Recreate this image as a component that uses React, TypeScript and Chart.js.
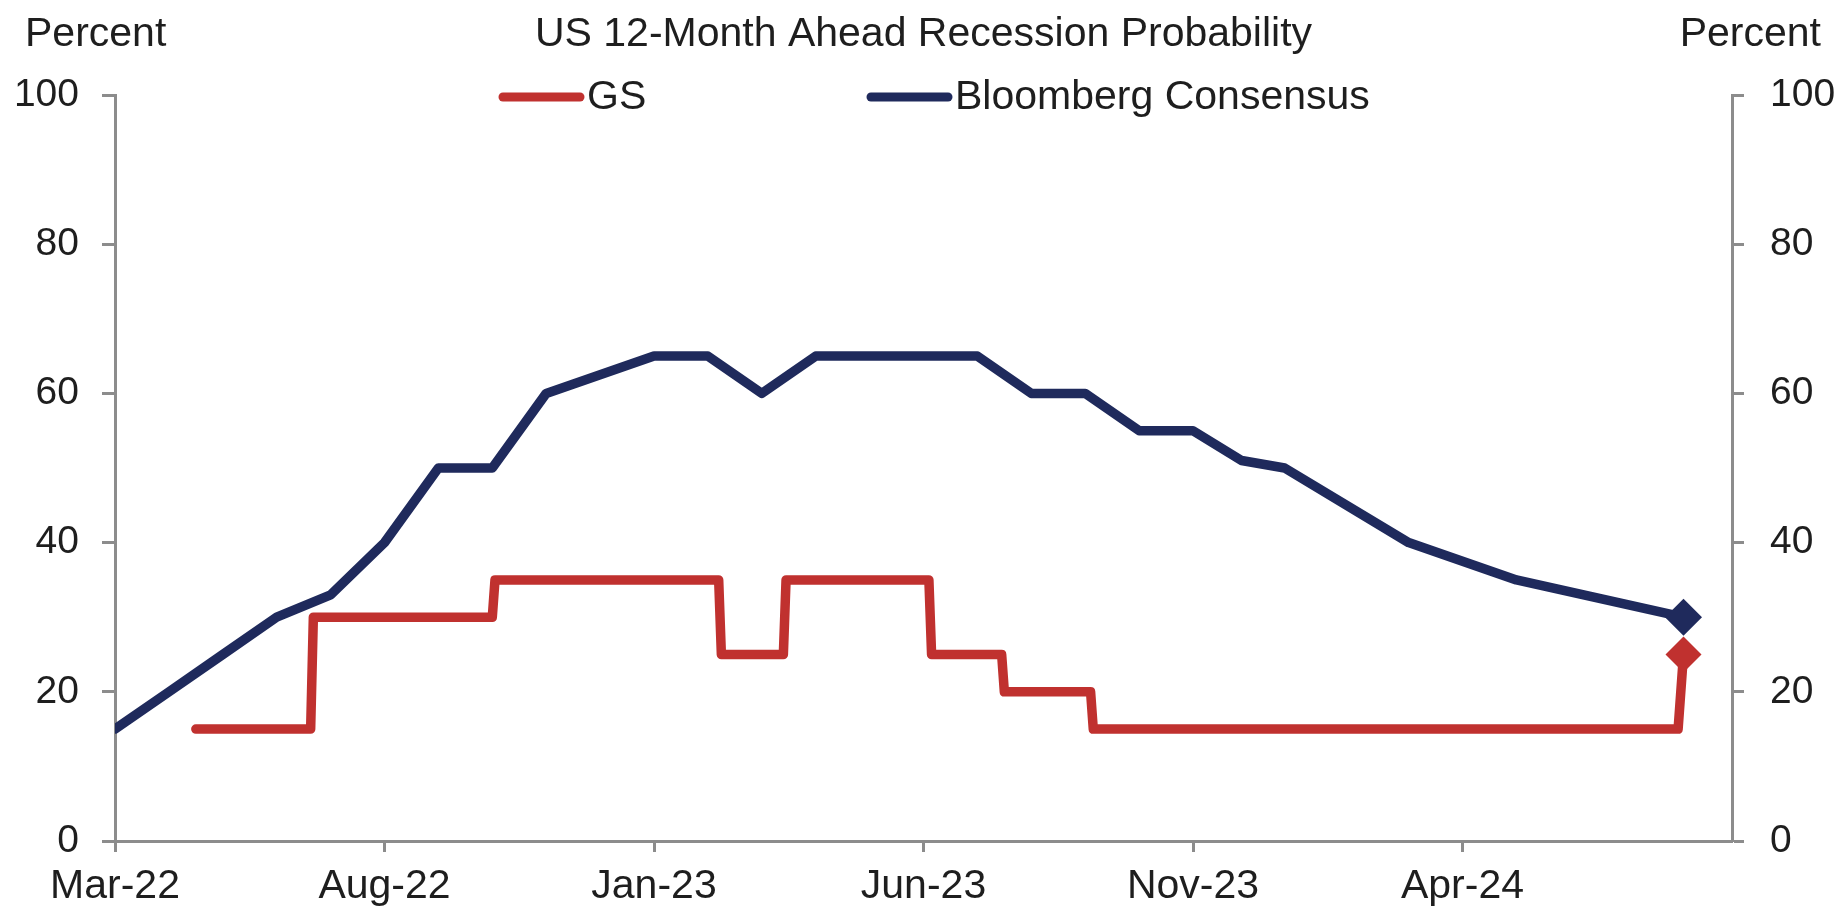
import React, { useEffect, useRef } from 'react';
import { Chart, registerables } from 'chart.js';

Chart.register(...registerables);

// ---- text ----
const TITLE = 'US 12-Month Ahead Recession Probability';
const AXIS_UNIT = 'Percent';

// ---- x axis: months since Mar-22 ----
const tickMonths = [0, 5, 10, 15, 20, 25];
const tickLabels = ['Mar-22', 'Aug-22', 'Jan-23', 'Jun-23', 'Nov-23', 'Apr-24'];
const X_MIN = 0;
const X_MAX = 30;

// ---- y axis ----
const Y_MIN = 0;
const Y_MAX = 100;
const Y_STEP = 20;

// ---- GS (step changes) ----
const gsLabel = 'GS';
const gsMonths = [1.5, 3.63, 3.68, 7.0, 7.05, 11.2, 11.25, 12.4, 12.45, 15.1, 15.15, 16.45, 16.5, 18.1, 18.15, 29.0, 29.1];
const gsValues = [15, 15, 30, 30, 35, 35, 25, 25, 35, 35, 25, 25, 20, 20, 15, 15, 25];

// ---- Bloomberg Consensus ----
const bbgLabel = 'Bloomberg Consensus';
const bbgMonths = [0, 1, 2, 3, 4, 5, 6, 7, 8, 9, 10, 11, 12, 13, 14, 15, 16, 17, 18, 19, 20, 20.9, 21.7, 24, 26, 29.1];
const bbgValues = [15, 20, 25, 30, 33, 40, 50, 50, 60, 62.5, 65, 65, 60, 65, 65, 65, 65, 60, 60, 55, 55, 51, 50, 40, 35, 30];

const FONT = '"Liberation Sans", Arial, sans-serif';
const RED = '#c0312f';
const NAVY = '#1f2a5c';
const AXIS = '#8c8c8c';
const TEXT = '#1e1e1e';

const topTextPlugin = {
  id: 'topText',
  afterDraw(chart: any) {
    const { ctx, chartArea } = chart;
    ctx.save();
    ctx.font = `41px ${FONT}`;
    ctx.fillStyle = TEXT;
    ctx.textBaseline = 'middle';
    ctx.textAlign = 'left';
    ctx.fillText(AXIS_UNIT, 25, 35);
    ctx.textAlign = 'right';
    ctx.fillText(AXIS_UNIT, chart.width - 21, 35);
    ctx.textAlign = 'center';
    ctx.fillText(TITLE, (chartArea.left + chartArea.right) / 2, 35);

    // legend
    const starts = [chartArea.left + 384, chartArea.left + 752];
    const ly = 97;
    chart.data.datasets.forEach((ds: any, i: number) => {
      const x0 = starts[i];
      ctx.strokeStyle = ds.borderColor;
      ctx.lineWidth = 9;
      ctx.lineCap = 'round';
      ctx.beginPath();
      ctx.moveTo(x0 + 4, ly);
      ctx.lineTo(x0 + 81, ly);
      ctx.stroke();
      ctx.fillStyle = TEXT;
      ctx.textAlign = 'left';
      ctx.fillText(ds.label, x0 + 88, ly + 1);
    });
    ctx.restore();
  },
};

function toPoints(xs: number[], ys: number[]) {
  return xs.map((x, i) => ({ x, y: ys[i] }));
}

export default function App() {
  const canvasRef = useRef<HTMLCanvasElement | null>(null);

  useEffect(() => {
    if (!canvasRef.current) return;
    const lastGs = gsMonths.length - 1;
    const lastBbg = bbgMonths.length - 1;
    const chart = new Chart(canvasRef.current, {
      type: 'line',
      data: {
        datasets: [
          {
            label: gsLabel,
            data: toPoints(gsMonths, gsValues),
            borderColor: RED,
            backgroundColor: RED,
            borderWidth: 9.5,
            borderCapStyle: 'round',
            borderJoinStyle: 'round',
            tension: 0,
            pointStyle: 'rectRot',
            pointRadius: (c: any) => (c.dataIndex === lastGs ? 18 : 0),
            pointBorderWidth: 0,
            pointBackgroundColor: RED,
            yAxisID: 'y',
          },
          {
            label: bbgLabel,
            data: toPoints(bbgMonths, bbgValues),
            borderColor: NAVY,
            backgroundColor: NAVY,
            borderWidth: 9.5,
            borderCapStyle: 'round',
            borderJoinStyle: 'round',
            tension: 0,
            pointStyle: 'rectRot',
            pointRadius: (c: any) => (c.dataIndex === lastBbg ? 18.5 : 0),
            pointBorderWidth: 0,
            pointBackgroundColor: NAVY,
            yAxisID: 'y',
          },
        ],
      },
      options: {
        animation: false,
        responsive: false,
        events: [],
        layout: { padding: { top: 95, left: 0, right: 0, bottom: 0 } },
        plugins: {
          legend: { display: false },
          title: { display: false },
          tooltip: { enabled: false },
        },
        scales: {
          x: {
            type: 'linear',
            min: X_MIN,
            max: X_MAX,
            afterBuildTicks: (s: any) => {
              s.ticks = tickMonths.map((v) => ({ value: v }));
            },
            afterFit: (s: any) => {
              s.height = 69;
            },
            ticks: {
              autoSkip: false,
              maxRotation: 0,
              minRotation: 0,
              padding: 10,
              color: TEXT,
              font: { family: FONT, size: 41 },
              callback: (_v: any, i: number) => tickLabels[i] ?? '',
            },
            grid: { drawOnChartArea: false, drawTicks: true, tickLength: 11, tickWidth: 3, tickColor: AXIS },
            border: { display: true, color: AXIS, width: 3 },
          },
          y: {
            position: 'left',
            min: Y_MIN,
            max: Y_MAX,
            afterFit: (s: any) => {
              s.width = 115;
            },
            ticks: { stepSize: Y_STEP, padding: 23, color: TEXT, font: { family: FONT, size: 39 } },
            grid: { drawOnChartArea: false, drawTicks: true, tickLength: 13, tickWidth: 3, tickColor: AXIS },
            border: { display: true, color: AXIS, width: 3 },
          },
          y2: {
            position: 'right',
            min: Y_MIN,
            max: Y_MAX,
            afterFit: (s: any) => {
              s.width = 110;
            },
            ticks: { stepSize: Y_STEP, padding: 26, color: TEXT, font: { family: FONT, size: 39 } },
            grid: { drawOnChartArea: false, drawTicks: true, tickLength: 12, tickWidth: 3, tickColor: AXIS },
            border: { display: true, color: AXIS, width: 3 },
          },
        },
      } as any,
      plugins: [topTextPlugin],
    });
    return () => chart.destroy();
  }, []);

  return (
    <div style={{ position: 'fixed', left: 0, top: 0, width: 1842, height: 910, background: '#fff' }}>
      <canvas ref={canvasRef} width={1842} height={910} style={{ display: 'block', width: 1842, height: 910 }} />
    </div>
  );
}
